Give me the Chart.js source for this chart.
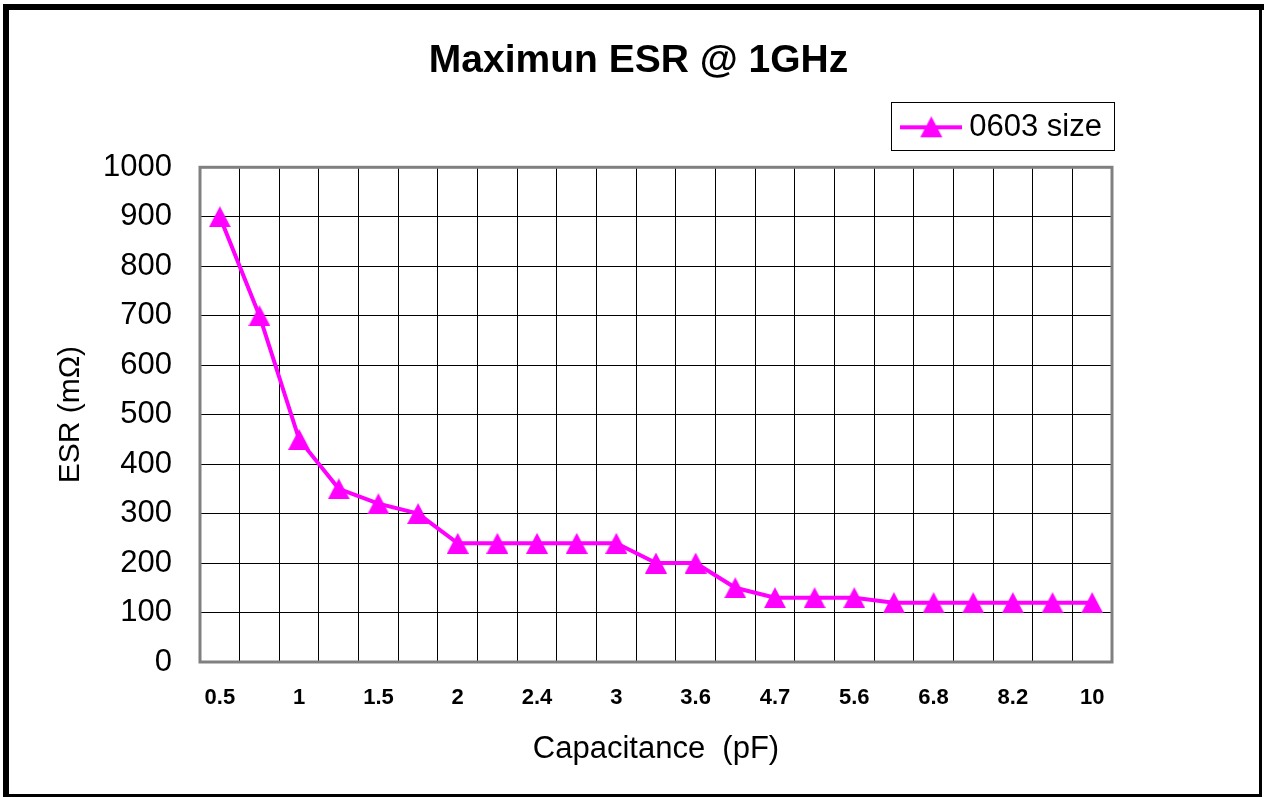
<!DOCTYPE html>
<html>
<head>
<meta charset="utf-8">
<title>Maximun ESR @ 1GHz</title>
<script src="https://cdn.jsdelivr.net/npm/chart.js@4"></script>
<style>
  html, body { margin: 0; padding: 0; background: #fff; }
  #wrap { width: 1267px; height: 797px; }
</style>
</head>
<body>
<div id="wrap"><canvas id="esrChart" width="1267" height="797"></canvas></div>
<script>
// capacitance steps (pF), only every other one is labelled on the axis
const capacitance = ["0.5", "0.75", "1", "1.2", "1.5", "1.8", "2", "2.2", "2.4", "2.7", "3", "3.3",
  "3.6", "3.9", "4.7", "5.1", "5.6", "6.2", "6.8", "7.5", "8.2", "9.1", "10"];
// max ESR (mOhm) for 0603 size
const esr0603 = [900, 700, 450, 350, 320, 300, 240, 240, 240, 240, 240, 200,
  200, 150, 130, 130, 130, 120, 120, 120, 120, 120, 120];
// y axis ticks
const esrTicks = [0, 100, 200, 300, 400, 500, 600, 700, 800, 900, 1000];

const MAGENTA = "#FF00FF";
Chart.defaults.font.family = "'Liberation Sans', Arial, sans-serif";
Chart.defaults.color = "#000";

// excel style triangle marker (taller than chart.js' own triangle)
function makeTriangle(w, h) {
  const c = document.createElement("canvas");
  c.width = w;
  c.height = h;
  const g = c.getContext("2d");
  g.fillStyle = MAGENTA;
  g.beginPath();
  g.moveTo(w / 2, 0);
  g.lineTo(w, h);
  g.lineTo(0, h);
  g.closePath();
  g.fill();
  return c;
}

// legend icon: line with the marker in the middle
function makeLegendIcon() {
  const c = document.createElement("canvas");
  c.width = 62;
  c.height = 22;
  const g = c.getContext("2d");
  g.fillStyle = MAGENTA;
  g.fillRect(0, 9, 62, 4);
  g.drawImage(makeTriangle(22, 21), 20, 0);
  return c;
}

// plot border, outer frame and the box round the legend
const framePlugin = {
  id: "frame",
  beforeDatasetsDraw(chart) {
    const a = chart.chartArea;
    const ctx = chart.ctx;
    ctx.save();
    ctx.strokeStyle = "#808080";
    ctx.lineWidth = 3;
    ctx.strokeRect(a.left, a.top, a.right - a.left, a.bottom - a.top);
    ctx.restore();
  },
  afterDraw(chart) {
    const ctx = chart.ctx;
    ctx.save();
    ctx.fillStyle = "#000";
    ctx.fillRect(3, 4, 1261, 6);
    ctx.fillRect(3, 4, 6, 791);
    ctx.fillRect(1259, 4, 3, 791);
    ctx.fillRect(3, 794, 1259, 3);

    const hb = chart.legend.legendHitBoxes[0];
    if (hb) {
      ctx.strokeStyle = "#000";
      ctx.lineWidth = 1;
      const x0 = Math.round(hb.left - 18) + 0.5;
      const x1 = Math.round(hb.left + hb.width + 12) + 0.5;
      const y0 = Math.round(hb.top - 10) + 0.5;
      const y1 = Math.round(hb.top + hb.height + 7) + 0.5;
      ctx.strokeRect(x0, y0, x1 - x0, y1 - y0);
    }
    ctx.restore();
  }
};

const ctx = document.getElementById("esrChart").getContext("2d");
new Chart(ctx, {
  type: "line",
  data: {
    labels: capacitance,
    datasets: [
      {
        label: "0603 size",
        data: esr0603,
        borderColor: MAGENTA,
        backgroundColor: MAGENTA,
        borderWidth: 4,
        tension: 0,
        pointStyle: makeTriangle(22, 21),
        pointRadius: 11,
        pointHoverRadius: 11
      }
    ]
  },
  options: {
    responsive: false,
    animation: false,
    devicePixelRatio: 1,
    layout: { padding: { left: 12, right: 2, top: 12, bottom: 8 } },
    plugins: {
      title: {
        display: true,
        text: "Maximun ESR @ 1GHz",
        font: { size: 39, weight: "bold" },
        padding: { top: 26, bottom: 17 }
      },
      legend: {
        position: "top",
        align: "end",
        fullSize: false,
        labels: {
          usePointStyle: true,
          pointStyle: makeLegendIcon(),
          pointStyleWidth: 45,
          padding: 10,
          font: { size: 31 }
        }
      },
      tooltip: { enabled: false }
    },
    scales: {
      x: {
        offset: true,
        grid: { offset: true, color: "#000", lineWidth: 1, drawTicks: false },
        border: { display: false },
        ticks: {
          autoSkip: false,
          maxRotation: 0,
          padding: 23,
          font: { size: 22, weight: "bold" },
          callback: (v, i) => (i % 2 === 0 ? capacitance[i] : "")
        },
        title: {
          display: true,
          text: "Capacitance  (pF)",
          font: { size: 31 },
          padding: { top: 0, bottom: 21 }
        },
        afterFit: (s) => { s.height = 127; }
      },
      y: {
        min: 0,
        max: 1000,
        grid: { color: "#000", lineWidth: 1, drawTicks: false },
        border: { display: false },
        afterBuildTicks: (s) => { s.ticks = esrTicks.map((v) => ({ value: v })); },
        ticks: { padding: 28, font: { size: 31 }, callback: (v) => String(v) },
        title: {
          display: true,
          text: "ESR (mΩ)",
          font: { size: 30 },
          padding: { top: 41, bottom: 0 }
        },
        afterFit: (s) => { s.width = 188; }
      },
      // empty axes that only keep the plot area in place
      gapTop: {
        type: "linear",
        position: "top",
        grid: { display: false },
        border: { display: false },
        ticks: { display: false },
        afterFit: (s) => { s.height = 14.5; }
      },
      gapRight: {
        type: "linear",
        position: "right",
        grid: { display: false },
        border: { display: false },
        ticks: { display: false },
        afterFit: (s) => { s.width = 153; }
      }
    }
  },
  plugins: [framePlugin]
});
</script>
</body>
</html>
